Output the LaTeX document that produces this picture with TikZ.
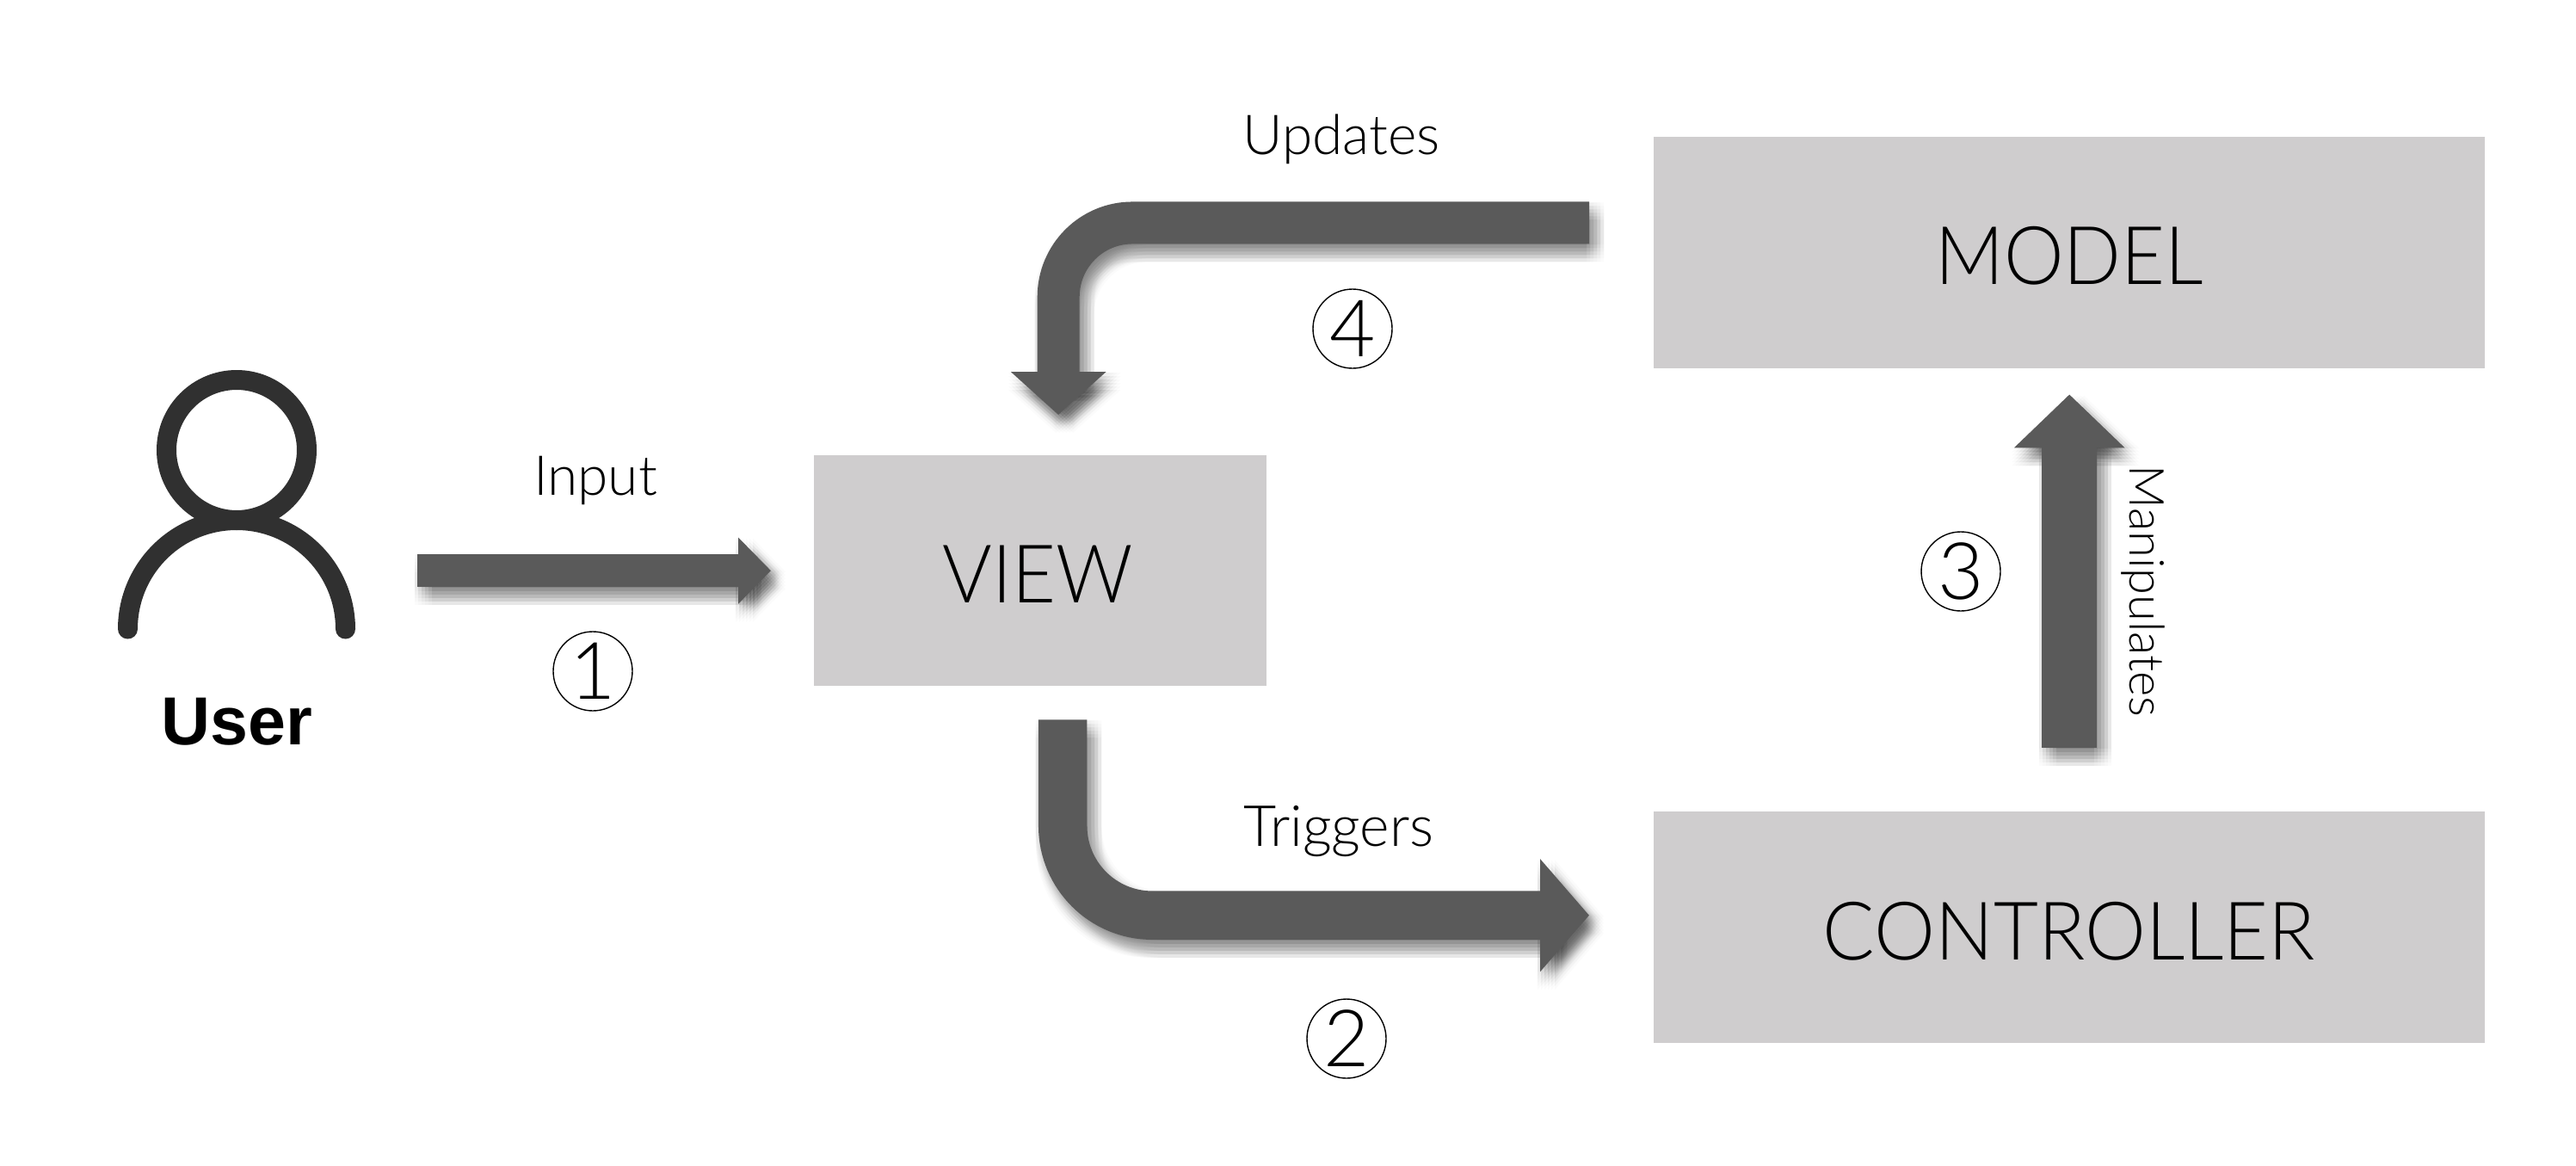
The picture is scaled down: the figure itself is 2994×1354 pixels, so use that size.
\documentclass[tikz,border=0pt]{standalone}
\usepackage{fontspec}
\usetikzlibrary{arrows.meta}
\newfontfamily\lightf{Lato Light}
\newfontfamily\boldf{Liberation Sans Bold}
\definecolor{boxgray}{HTML}{CFCDCE}
\definecolor{arrowgray}{HTML}{5A5A5A}
\definecolor{icongray}{HTML}{303030}
\newcommand{\lbl}[1]{\fontsize{#1pt}{#1pt}\selectfont\lightf}
% args: shaft width, head width, head length, corner radius, path
\newcommand{\blockarrow}[5]{%
  \foreach \dx in {-3,1,5,9,13,17}{%
    \foreach \dy in {-1,-5,-9,-13,-17,-21}{%
      \draw[draw=black,opacity=0.015,transform canvas={xshift=\dx pt,yshift=\dy pt},rounded corners=#4pt,
            line width=#1pt,-{Triangle[length=#3pt,width=#2pt]}] #5;
    }%
  }%
  \draw[draw=arrowgray,rounded corners=#4pt,line width=#1pt,
        -{Triangle[length=#3pt,width=#2pt]}] #5;
}
\tikzset{
  box/.style={fill=boxgray,draw=none,inner sep=0pt,anchor=north west,text=black},
  boxtext/.style={inner sep=0pt,anchor=base,text=black,xscale=0.935,font=\lbl{94}},
  edgetext/.style={inner sep=0pt,anchor=base,text=black,font=\lbl{64}},
  numcircle/.style={circle,draw=black,line width=1.4pt,minimum size=92pt,inner sep=0pt,text=black,font=\lbl{92}},
  iconline/.style={draw=icongray,line width=23pt,line cap=round}
}
\begin{document}
\begin{tikzpicture}[x=1pt,y=-1pt]
\useasboundingbox (0,0) rectangle (2994,1354);
\fill[white] (0,0) rectangle (2994,1354);

\node[box,minimum width=526pt,minimum height=268pt] (view) at (946,529) {};
\node[box,minimum width=966pt,minimum height=269.5pt] (model) at (1922,158.5) {};
\node[box,minimum width=966pt,minimum height=269pt] (controller) at (1922,943) {};

\node[boxtext] (viewt) at (1206,700) {VIEW};
\node[boxtext] (modelt) at (2405,330) {MODEL};
\node[boxtext,xscale=1.02] (controllert) at (2405,1115) {CONTROLLER};

% user icon
\node[inner sep=0pt,minimum width=276pt,minimum height=325pt] (usericon) at (275,586) {};
\draw[iconline] (275,523) circle[radius=81.5];
\draw[iconline] (148.5,731) arc[start angle=180,end angle=360,radius=126.5];
\node[inner sep=0pt,anchor=base,text=black] (usert) at (275,865) {\fontsize{79pt}{79pt}\selectfont\boldf User};

% arrows
\blockarrow{38}{75}{38}{0.01}{[shorten <=72pt,shorten >=50pt] (usericon.east |- view.west) -- (view.west)}
\blockarrow{56.5}{128}{57}{104}{[shorten <=39pt,shorten >=75pt] ([xshift=26pt]view.south) |- ([yshift=14pt]controller.west)}
\blockarrow{64}{125}{62}{0.01}{[shorten <=74pt,shorten >=30pt] (controller.north) -- (model.south)}
\blockarrow{49}{108}{50}{86}{[shorten <=75pt,shorten >=47pt] ([yshift=34.5pt]model.west) -| ([xshift=21pt]view.north)}

% labels
\node[edgetext] (inputt) at (692,575) {Input};
\node[edgetext,font=\lbl{66}] (triggerst) at (1556,983) {Triggers};
\node[edgetext] (updatest) at (1559,179) {Updates};
\node[edgetext,rotate=-90,font=\lbl{56}] (manipt) at (2475,687) {Manipulates};

\node[numcircle] (n1) at (689,780) {1};
\node[numcircle] (n2) at (1565,1207) {2};
\node[numcircle] (n3) at (2279,664) {3};
\node[numcircle] (n4) at (1572,382) {4};
\end{tikzpicture}
\end{document}
